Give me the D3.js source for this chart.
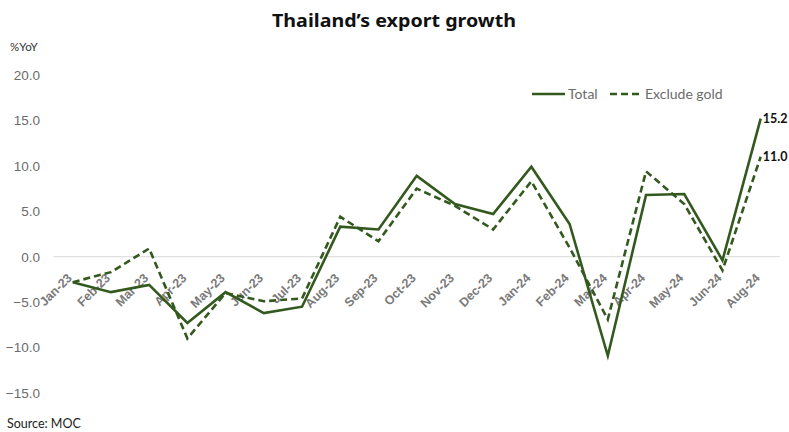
<!DOCTYPE html>
<html lang="en">
<head>
  <meta charset="UTF-8">
  <title>Thailand's export growth</title>
  <style>
    body { margin: 0; background: #fff; }
    svg { display: block; font-family: Lato, "Open Sans", sans-serif; }
  </style>
</head>
<body>
  <svg width="789" height="432"></svg>
  <script src="https://d3js.org/d3.v7.min.js"></script>
  <script>
const months = ["Jan-23", "Feb-23", "Mar-23", "Apr-23", "May-23", "Jun-23", "Jul-23", "Aug-23",
  "Sep-23", "Oct-23", "Nov-23", "Dec-23", "Jan-24", "Feb-24", "Mar-24", "Apr-24", "May-24",
  "Jun-24", "Aug-24"];
const total = [-2.8, -3.9, -3.1, -7.3, -3.9, -6.2, -5.5, 3.3, 3.0, 8.9, 5.8, 4.7, 9.9, 3.6,
  -10.9, 6.8, 6.9, -0.4, 15.2];
const exGold = [-2.8, -1.7, 0.9, -9.0, -4.0, -4.9, -4.6, 4.4, 1.7, 7.5, 5.6, 3.0, 8.3, 1.0,
  -6.9, 9.4, 5.8, -1.5, 11.0];
const yTicks = [-15, -10, -5, 0, 5, 10, 15, 20];

const svg = d3.select("svg");
const green = "#33591f";

const x = d3.scaleBand().domain(months).range([53.6, 779.8]);
const y = d3.scaleLinear().domain([-15, 20]).range([393, 75]);
const cx = d => x(d) + x.bandwidth() / 2;

// title
svg.append("text")
  .attr("x", 394).attr("y", 27)
  .attr("text-anchor", "middle")
  .attr("font-family", "'Noto Sans', sans-serif")
  .attr("font-weight", "bold")
  .attr("font-size", 18)
  .attr("textLength", 244)
  .attr("lengthAdjust", "spacingAndGlyphs")
  .attr("fill", "#111")
  .text("Thailand\u2019s export growth");

svg.append("text")
  .attr("x", 10).attr("y", 51)
  .attr("font-size", 11.5)
  .attr("fill", "#333")
  .text("%YoY");

// y axis (labels only)
const yAxis = svg.append("g")
  .attr("transform", "translate(40,0)")
  .call(d3.axisLeft(y).tickValues(yTicks).tickFormat(d3.format(".1f")).tickSize(0).tickPadding(0));
yAxis.select(".domain").remove();
yAxis.selectAll("text")
  .attr("font-size", 13.5)
  .attr("fill", "#6b6b6b");

// zero line
svg.append("line")
  .attr("x1", x.range()[0]).attr("x2", x.range()[1])
  .attr("y1", y(0)).attr("y2", y(0))
  .attr("stroke", "#d9d9d9").attr("stroke-width", 1);

// x axis labels along zero line
const xAxis = svg.append("g")
  .attr("transform", `translate(0,${y(0)})`)
  .call(d3.axisBottom(x).tickSize(0).tickPadding(0));
xAxis.select(".domain").remove();
xAxis.selectAll("text")
  .attr("font-size", 12.5)
  .attr("font-weight", "bold")
  .attr("fill", "#7a7a7a")
  .attr("text-anchor", "end")
  .attr("dy", null)
  .attr("y", 0)
  .attr("transform", "translate(0,22) rotate(-45)");

// lines
const line = vals => d3.line().x((d, i) => cx(months[i])).y(d => y(d))(vals);

svg.append("path")
  .attr("d", line(exGold))
  .attr("fill", "none").attr("stroke", green)
  .attr("stroke-width", 2.6).attr("stroke-dasharray", "7,4");

svg.append("path")
  .attr("d", line(total))
  .attr("fill", "none").attr("stroke", green)
  .attr("stroke-width", 2.6);

// end labels
const last = months.length - 1;
[total, exGold].forEach(vals => {
  svg.append("text")
    .attr("x", cx(months[last]) + 2)
    .attr("y", y(vals[last]) + 4)
    .attr("font-size", 12.5)
    .attr("font-weight", "bold")
    .attr("fill", "#111")
    .text(d3.format(".1f")(vals[last]));
});

// legend
const legend = svg.append("g").attr("transform", "translate(532,94)");
legend.append("line").attr("x1", 0).attr("x2", 33).attr("stroke", green).attr("stroke-width", 2.6);
legend.append("text").attr("x", 36).attr("y", 4.5).attr("font-size", 14).attr("fill", "#6b6b6b").text("Total");
legend.append("line").attr("x1", 78).attr("x2", 110).attr("stroke", green).attr("stroke-width", 2.6)
  .attr("stroke-dasharray", "7,4");
legend.append("text").attr("x", 113).attr("y", 4.5).attr("font-size", 14).attr("fill", "#6b6b6b").text("Exclude gold");

// source
svg.append("text")
  .attr("x", 7).attr("y", 428)
  .attr("font-size", 12.5)
  .attr("fill", "#222")
  .text("Source: MOC");
  </script>
</body>
</html>
